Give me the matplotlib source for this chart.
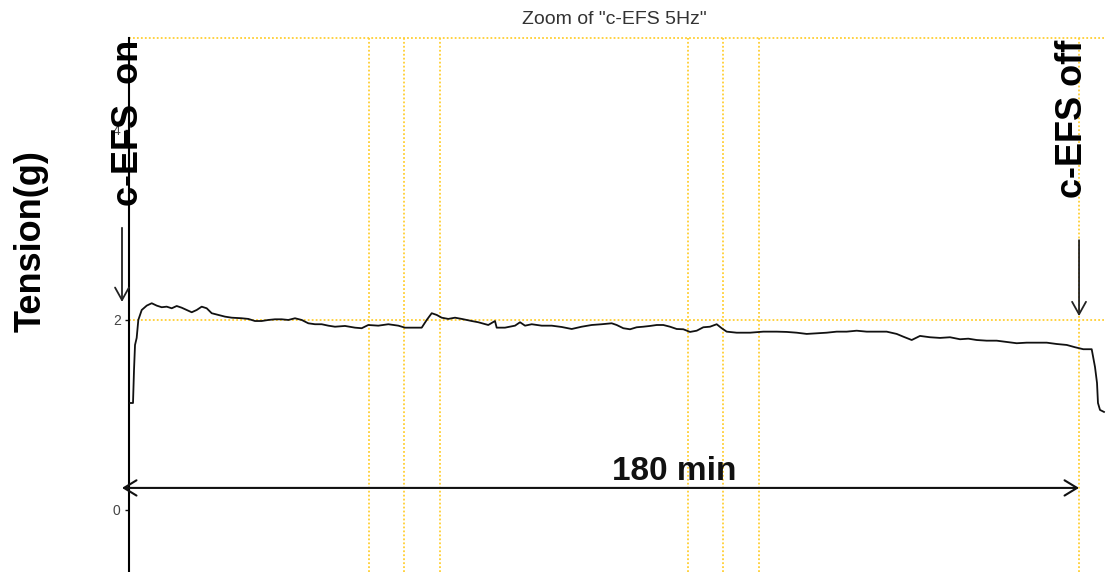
import numpy as np
import matplotlib
matplotlib.use('Agg')
from matplotlib import pyplot as plt

plt.rcParams['font.family'] = ['Liberation Sans', 'DejaVu Sans']

# trace: time (min) and tension (g)
t = [1.50, 2.07, 2.26, 2.45, 2.76, 3.07, 3.71, 4.65, 5.59, 6.53, 7.47, 8.41,
     9.35, 10.29, 11.23, 12.17, 13.11, 14.05, 14.99, 15.93, 16.87, 18.11, 19.37,
     20.63, 22.51, 23.75, 25.01, 26.27, 27.52, 28.78, 30.04, 31.28, 32.54, 33.80,
     35.04, 36.30, 37.56, 38.80, 40.06, 41.94, 43.82, 45.08, 46.32, 48.21, 50.09,
     51.97, 53.23, 54.49, 56.37, 57.31, 58.25, 59.19, 60.13, 61.37, 62.63, 63.89,
     65.77, 67.01, 68.89, 70.15, 70.47, 72.03, 73.92, 74.86, 75.80, 77.06, 78.94,
     80.82, 82.70, 84.58, 86.46, 88.34, 90.22, 92.10, 93.04, 94.29, 95.55, 96.80,
     98.05, 99.31, 100.57, 101.81, 103.07, 104.33, 105.57, 106.83, 108.09,
     109.33, 110.59, 111.85, 112.79, 113.73, 115.61, 118.11, 120.62, 123.14,
     125.02, 126.90, 128.78, 130.66, 132.54, 134.42, 136.30, 138.18, 140.06,
     141.94, 143.82, 145.70, 146.95, 148.53, 150.09, 151.97, 153.85, 155.73,
     157.61, 159.17, 160.75, 162.63, 164.51, 166.39, 168.27, 170.15, 172.04,
     173.92, 175.80, 177.68, 179.24, 180.80, 182.38, 183.00, 183.38, 183.56,
     183.94, 184.69]
tension = [1.126, 1.126, 1.474, 1.737, 1.811, 2.000, 2.105, 2.151, 2.176, 2.151,
           2.134, 2.140, 2.123, 2.147, 2.129, 2.105, 2.081, 2.105, 2.140, 2.123,
           2.071, 2.053, 2.035, 2.024, 2.018, 2.011, 1.989, 1.989, 2.000, 2.007,
           2.007, 2.000, 2.018, 2.000, 1.965, 1.955, 1.955, 1.940, 1.929, 1.937,
           1.919, 1.913, 1.947, 1.940, 1.955, 1.940, 1.919, 1.919, 1.919, 2.000,
           2.071, 2.053, 2.024, 2.011, 2.024, 2.011, 1.989, 1.976, 1.947, 1.989,
           1.919, 1.919, 1.940, 1.976, 1.940, 1.955, 1.940, 1.940, 1.926, 1.905,
           1.929, 1.947, 1.955, 1.965, 1.947, 1.913, 1.902, 1.923, 1.929, 1.937,
           1.947, 1.947, 1.929, 1.905, 1.902, 1.874, 1.887, 1.923, 1.929, 1.955,
           1.913, 1.877, 1.866, 1.866, 1.877, 1.877, 1.874, 1.866, 1.853, 1.860,
           1.866, 1.877, 1.877, 1.887, 1.877, 1.877, 1.877, 1.853, 1.824, 1.789,
           1.832, 1.818, 1.811, 1.818, 1.797, 1.803, 1.789, 1.782, 1.782, 1.768,
           1.755, 1.761, 1.761, 1.761, 1.747, 1.737, 1.713, 1.692, 1.692, 1.505,
           1.337, 1.126, 1.053, 1.032]

vlines = [46.45, 53.04, 59.81, 106.45, 113.04, 119.80, 179.99]
hlines = [2, 4.968]
yticks = [0, 2, 4]

W, H = 1106, 572
fig = plt.figure(figsize=(W / 100, H / 100), dpi=100)
ax = fig.add_axes([129 / W, 0, 1 - 129 / W, 1 - 38 / H])
ax.set_xlim(1.317, 185.07)
ax.set_ylim(-0.653, 4.968)

gold = '#ffcf33'
for v in vlines:
    ax.axvline(v, color=gold, lw=1.3, ls=(0, (1, 1.2)), zorder=1)
for h in hlines:
    ax.axhline(h, color=gold, lw=1.3, ls=(0, (1, 1.2)), zorder=1, clip_on=False)

ax.plot(t, tension, color='#111111', lw=1.3, zorder=3)

for s in ['top', 'right', 'bottom']:
    ax.spines[s].set_visible(False)
ax.spines['left'].set_linewidth(1.5)
ax.set_xticks([])
ax.set_yticks(yticks)
ax.tick_params(axis='y', length=3, width=1, labelsize=10, colors='#111111',
               labelcolor='#444444', pad=3)

ap = dict(arrowstyle='->,head_length=0.9,head_width=0.5', color='#222222',
          lw=1.3, shrinkA=0, shrinkB=0)
ax.annotate('', xy=(0, 2.19), xytext=(0, 2.97), arrowprops=ap, annotation_clip=False)
ax.annotate('', xy=(180, 2.04), xytext=(180, 2.84), arrowprops=ap, annotation_clip=False)
ap2 = dict(arrowstyle='<->,head_length=0.9,head_width=0.55', color='#111111',
           lw=1.5, shrinkA=0, shrinkB=0)
ax.annotate('', xy=(0, 0.232), xytext=(180, 0.232), arrowprops=ap2, annotation_clip=False)
ax.text(103.8, 0.41, '180 min', ha='center', va='center', fontsize=24,
        fontweight='bold', color='#111111')

fig.text(614 / W, 1 - 20 / H, 'Zoom of "c-EFS 5Hz"', ha='center', va='center',
         fontsize=14, color='#333333')
fig.text(31 / W, 1 - 241 / H, 'Tension(g)', rotation=90, ha='center', va='center',
         fontsize=26, fontweight='bold')
fig.text(128 / W, 1 - 40 / H, 'c-EFS  on', rotation=90, ha='center', va='top',
         fontsize=26, fontweight='bold')
fig.text(1072 / W, 1 - 40 / H, 'c-EFS off', rotation=90, ha='center', va='top',
         fontsize=26, fontweight='bold')

fig.savefig('out.png', dpi=100)
